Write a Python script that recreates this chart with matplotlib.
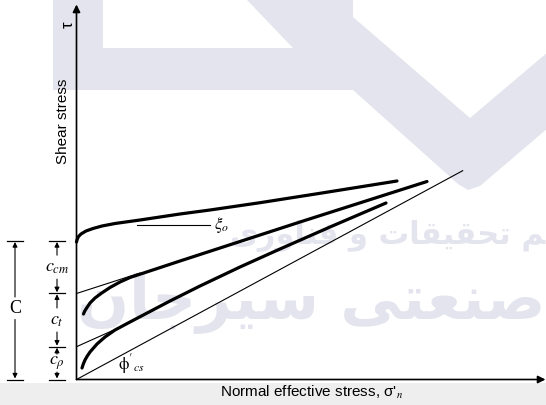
import matplotlib.pyplot as plt
from matplotlib.patches import Polygon, Rectangle

plt.rcParams['mathtext.fontset'] = 'stix'

# figure size in pixels and where the origin of the diagram sits (from top-left)
W, H = 546, 405
X0, Y0 = 76.5, 379.5

# envelopes (pixels right of / above the origin)
top_x = [0, 0.8, 2, 4.5, 9.5, 16.5, 25.5, 38.5, 63.5, 103.5, 133.5, 183.5, 243.5, 320.5]
top_y = [137.5, 140.5, 143, 145.5, 148.5, 151, 153.5, 156, 159.5, 165.5, 169.5, 176.8, 186.2, 198.5]

mid_x = [7, 8, 9.5, 11.5, 13.5, 18.5, 24.5, 33.5, 43.5, 53.5, 103.5, 223.5, 350.5]
mid_y = [65.5, 68, 70.5, 73.5, 76.5, 81.5, 86, 92, 97.5, 102, 118.5, 157.5, 198]

low_x = [5.5, 6.8, 8.5, 10.8, 13.5, 20.5, 28.5, 38.5, 53.5, 73.5, 93.5, 123.5, 163.5, 203.5, 253.5, 309.5]
low_y = [11.5, 15.5, 19.5, 23.5, 27.5, 35.5, 42.5, 49.5, 57.5, 68, 78.5, 93.5, 112.5, 130.5, 152.5, 176.5]

# tangent lines and critical state line: (x0, y0, x1, y1)
tan_cm = (0, 86, 63.5, 106.5)
tan_t = (0, 32.8, 48.5, 54.5)
cs_line = (0, 0, 386.2, 208.8)
xi_line = (60, 154.5, 133.5, 154.5)

# intercepts on the shear stress axis
levels = [138.5, 86.2, 32.8, 0]
parts = [r'$c_{cm}$', r'$c_{t}$', r'$c_{\rho}$']
gaps = [12, 12, 9]

# watermark outline (pixels from top-left)
logo = [(53, 0), (103, 0), (103, 48), (293, 48), (247, 0), (353, 0), (353, 17),
        (470, 118), (548, 52), (548, 128), (480, 186), (468, 190), (458, 184),
        (353, 90), (53, 90)]
wm_line1 = '\ufeef\ufead\ufeed\ufe8e\ufee8\ufed3 \ufeed \ufe95\ufe8e\ufed8\ufef4\ufed8\ufea4\ufe97 \ufee2'
wm_line2 = '\ufee5\ufe8e\ufe9f\ufeae\ufef4\ufeb3 \ufef0\ufe98\ufecc\ufee8\ufebb'


def px(x, y):
    return x - X0, Y0 - y


fig = plt.figure(figsize=(W / 100, H / 100), dpi=100)
ax = fig.add_axes([0, 0, 1, 1])
ax.set_xlim(-X0, W - X0)
ax.set_ylim(-(H - Y0), Y0)
ax.axis('off')

wm = '#e4e4ee'
ax.add_patch(Polygon([px(*p) for p in logo], closed=True, fc=wm, ec='none', zorder=0))
ax.text(*px(545, 236), wm_line1, fontsize=22, fontweight='bold', color=wm,
        family='DejaVu Sans', ha='right', va='center', zorder=0)
ax.text(*px(545, 303), wm_line2, fontsize=44, fontweight='bold', color=wm,
        family='DejaVu Sans', ha='right', va='center', zorder=0)

# grey strip at the bottom
ax.add_patch(Rectangle(px(0, 405), W, 22, fc='#eeeeee', ec='none', zorder=0))

# axes with arrow heads
ax.annotate('', xy=(0, 375), xytext=(0, 0),
            arrowprops=dict(arrowstyle='-|>', color='k', lw=1.2, mutation_scale=11,
                            shrinkA=0, shrinkB=0))
ax.annotate('', xy=(469, 0), xytext=(0, 0),
            arrowprops=dict(arrowstyle='-|>', color='k', lw=1.2, mutation_scale=11,
                            shrinkA=0, shrinkB=0))

for xs, ys in [(top_x, top_y), (mid_x, mid_y), (low_x, low_y)]:
    ax.plot(xs, ys, color='k', lw=2.3, solid_capstyle='round', solid_joinstyle='round')

for x0, y0, x1, y1 in [tan_cm, tan_t, cs_line, xi_line]:
    ax.plot([x0, x1], [y0, y1], color='k', lw=0.8)

ax.text(137.5, 154.5, r'$\xi_o$', fontsize=12, ha='left', va='center')
ax.text(41, 3.5, r"$\mathrm{\phi}'_{cs}$", fontsize=12, ha='left', va='bottom')

# axis titles
ax.text(-8.5, 354.5, 'τ', fontsize=12, rotation=90, ha='center', va='center',
        family='Liberation Sans')
ax.text(-13.5, 258.5, 'Shear stress', fontsize=11, rotation=90, ha='center', va='center',
        family='Liberation Sans')
ax.text(235.5, -12.5, "Normal effective stress, σ'$_{n}$", fontsize=11, ha='center',
        va='center', family='Liberation Sans')


def dim_arrow(x, y_from, y_to):
    ax.annotate('', xy=(x, y_to), xytext=(x, y_from),
                arrowprops=dict(arrowstyle='-|>', color='k', lw=0.8, mutation_scale=7,
                                shrinkA=0, shrinkB=0))


# component dimensions
dx = -19.5
for lv in levels:
    ax.plot([dx - 8, dx + 7.5], [lv, lv], color='k', lw=0.9)
for i, label in enumerate(parts):
    hi, lo = levels[i], levels[i + 1]
    mid = (hi + lo) / 2
    dim_arrow(dx, mid + gaps[i], hi - 1)
    dim_arrow(dx, mid - gaps[i], lo + 1)
    ax.text(dx, mid, label, fontsize=13, ha='center', va='center')

# total C
cx = -61.5
for lv in [levels[0], levels[-1]]:
    ax.plot([cx - 8, cx + 8], [lv, lv], color='k', lw=0.9)
dim_arrow(cx, 82.5, levels[0] - 1)
dim_arrow(cx, 60, levels[-1] + 1)
ax.text(cx, 71, 'C', fontsize=13, family='Liberation Serif', ha='center', va='center')

plt.savefig('out.png', dpi=100)
